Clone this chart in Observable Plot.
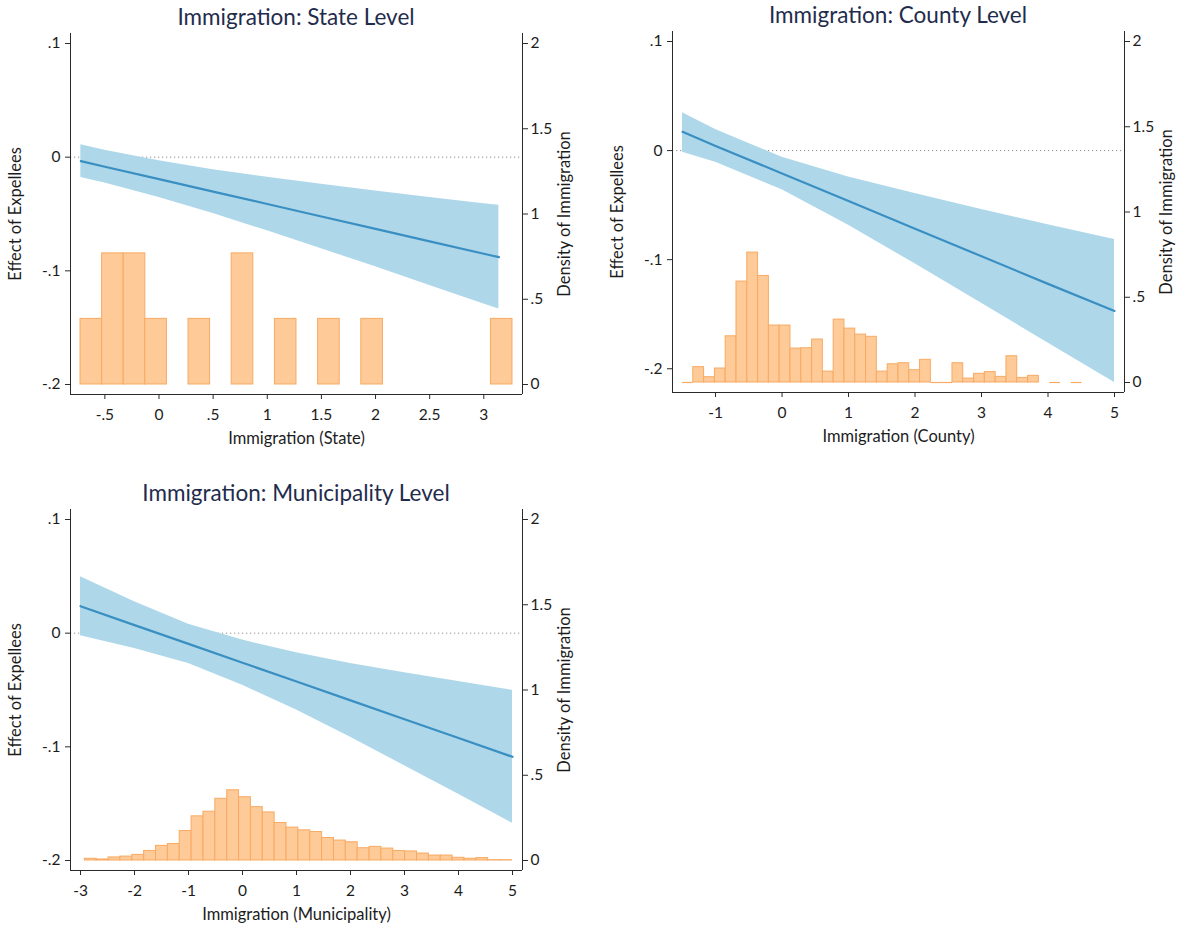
<!DOCTYPE html>
<html>
<head>
<meta charset="utf-8">
<script src="https://cdn.jsdelivr.net/npm/d3@7"></script>
<script src="https://cdn.jsdelivr.net/npm/@observablehq/plot@0.6"></script>
<style>
  body { margin: 0; background: #fff; }
  #page { position: relative; width: 1179px; height: 926px; overflow: hidden; background: #fff;
          font-family: Lato, "Noto Sans", sans-serif; }
  .panel { position: absolute; width: 590px; height: 470px; }
  .panel svg { position: absolute; left: 0; top: 0; }
  .title { position: absolute; transform: translate(-50%, -50%); white-space: nowrap;
           font-size: 22.5px; color: #1f2c4c; }
</style>
</head>
<body>
<div id="page"></div>
<script>
// ---------------- data ----------------
// Marginal effect of expellees (fit with 95% band) evaluated along immigration,
// plus the density histogram of immigration at each level.

// State level
const stateX   = [-0.722, -0.5, 0, 0.5, 1, 1.5, 2, 2.5, 3, 3.139];
const stateFit = [-0.0035, -0.0084, -0.0193, -0.0303, -0.0412, -0.0522, -0.0631, -0.0741, -0.0850, -0.0880];
const stateHi  = [0.0109, 0.0060, -0.0032, -0.0110, -0.0176, -0.0238, -0.0297, -0.0354, -0.0409, -0.0424];
const stateLo  = [-0.0179, -0.0228, -0.0354, -0.0496, -0.0648, -0.0806, -0.0965, -0.1128, -0.1291, -0.1336];
const stateBinStart = -0.725;
const stateBinWidth = 0.1995;
const stateDensity = [0.385, 0.769, 0.769, 0.385, null, 0.385, null, 0.769, null, 0.385,
                      null, 0.385, null, 0.385, null, null, null, null, null, 0.385];
const stateTicks = [-0.5, 0, 0.5, 1, 1.5, 2, 2.5, 3];

// County level
const countyX   = [-1.497, -1, 0, 1, 2, 3, 4, 5];
const countyFit = [0.0172, 0.0043, -0.0210, -0.0463, -0.0716, -0.0969, -0.1222, -0.1470];
const countyHi  = [0.0346, 0.0193, -0.0061, -0.0241, -0.0394, -0.0539, -0.0680, -0.0814];
const countyLo  = [-0.0016, -0.0107, -0.0359, -0.0685, -0.1038, -0.1399, -0.1764, -0.2126];
const countyBinStart = -1.497;
const countyBinWidth = 0.1624;
const countyDensity = [0, 0.090, 0.031, 0.082, 0.271, 0.592, 0.762, 0.625, 0.334, 0.334,
                       0.199, 0.201, 0.252, 0.064, 0.369, 0.316, 0.281, 0.268, 0.064, 0.107,
                       0.113, 0.072, 0.133, 0, 0, 0.113, 0.023, 0.051, 0.061, 0.033,
                       0.154, 0.027, 0.039, null, 0, null, 0];
const countyTicks = [-1, 0, 1, 2, 3, 4, 5];

// Municipality level
const muniX   = [-3, -2, -1, 0, 1, 2, 3, 4, 5];
const muniFit = [0.0237, 0.0071, -0.0094, -0.0260, -0.0425, -0.0591, -0.0757, -0.0922, -0.1088];
const muniHi  = [0.0496, 0.0276, 0.0079, -0.0061, -0.0173, -0.0266, -0.0348, -0.0426, -0.0503];
const muniLo  = [-0.0022, -0.0134, -0.0267, -0.0459, -0.0677, -0.0916, -0.1166, -0.1418, -0.1673];
const muniBinStart = -2.92;
const muniBinWidth = 0.2197;
const muniDensity = [0.010, 0.006, 0.018, 0.023, 0.033, 0.056, 0.086, 0.097, 0.173, 0.259,
                     0.286, 0.362, 0.412, 0.371, 0.313, 0.282, 0.220, 0.193, 0.177, 0.167,
                     0.132, 0.117, 0.107, 0.072, 0.080, 0.070, 0.056, 0.053, 0.041, 0.029,
                     0.029, 0.016, 0.010, 0.014, 0.002, 0.002];
const muniTicks = [-3, -2, -1, 0, 1, 2, 3, 4, 5];

// Shared axis ticks
const effectTicks  = [-0.2, -0.1, 0, 0.1];
const densityTicks = [0, 0.5, 1, 1.5, 2];
const effectFloor = -0.2, effectCeil = 0.1;
const densityMax = 2;

const panels = [
  { key: "state",  title: "Immigration: State Level",        xLabel: "Immigration (State)",
    x: stateX, fit: stateFit, hi: stateHi, lo: stateLo,
    binStart: stateBinStart, binWidth: stateBinWidth, density: stateDensity, xTicks: stateTicks },
  { key: "county", title: "Immigration: County Level",       xLabel: "Immigration (County)",
    x: countyX, fit: countyFit, hi: countyHi, lo: countyLo,
    binStart: countyBinStart, binWidth: countyBinWidth, density: countyDensity, xTicks: countyTicks },
  { key: "muni",   title: "Immigration: Municipality Level", xLabel: "Immigration (Municipality)",
    x: muniX, fit: muniFit, hi: muniHi, lo: muniLo,
    binStart: muniBinStart, binWidth: muniBinWidth, density: muniDensity, xTicks: muniTicks }
];

// ---------------- layout & style ----------------
const layout = {
  state:  { left: 0,   top: 1 },
  county: { left: 602, top: -1 },
  muni:   { left: 0,   top: 477 }
};
const W = 590, H = 470;
const M = { left: 70, right: 68, top: 32, bottom: 77 };
const INSET = 10;
const TICK_FONT = 15.5, LABEL_FONT = 16.5;
const colors = {
  band: "#aed8ea", line: "#3a8fc2", barFill: "#fdca98", barStroke: "#f8aa63",
  axis: "#2a2a2a", text: "#1c1c1c", zero: "#8c8c8c"
};

// Stata-style numbers: no leading zero (".5", "-.1")
const fmt = d => String(Math.round(d * 1000) / 1000).replace(/^(-?)0\./, "$1.");

const page = document.getElementById("page");

for (const p of panels) {
  const pos = layout[p.key];
  const rows = p.x.map((x, i) => ({ x, fit: p.fit[i], hi: p.hi[i], lo: p.lo[i] }));
  const bins = p.density
    .map((d, i) => ({ x1: p.binStart + i * p.binWidth, x2: p.binStart + (i + 1) * p.binWidth, d }))
    .filter(b => b.d !== null);

  const xDomain = [Math.min(p.x[0], p.binStart),
                   Math.max(p.x[p.x.length - 1], p.binStart + p.density.length * p.binWidth)];
  const yDomain = [Math.min(effectFloor, d3.min(p.lo)), effectCeil];

  const common = {
    width: W, height: H,
    marginLeft: M.left, marginRight: M.right, marginTop: M.top, marginBottom: M.bottom,
    style: { fontFamily: "Lato, 'Noto Sans', sans-serif", fontSize: TICK_FONT + "px",
             color: colors.text, background: "transparent", overflow: "visible" }
  };

  // Histogram of immigration on the right-hand density axis
  const hist = Plot.plot({
    ...common,
    x: { domain: xDomain, insetLeft: INSET, insetRight: INSET, axis: null },
    y: { domain: [0, densityMax], insetTop: INSET, insetBottom: INSET },
    marks: [
      Plot.rectY(bins.filter(b => b.d > 0), {
        x1: "x1", x2: "x2", y: "d",
        fill: colors.barFill, stroke: colors.barStroke, strokeWidth: 1
      }),
      Plot.ruleY(bins.filter(b => b.d === 0), {
        x1: "x1", x2: "x2", y: "d", stroke: colors.barStroke, strokeWidth: 1.2
      }),
      Plot.axisY({
        anchor: "right", ticks: densityTicks, tickFormat: fmt, label: null,
        tickSize: 5, tickPadding: 3, stroke: colors.axis, fontSize: TICK_FONT
      }),
      Plot.axisY({
        anchor: "right", ticks: [], tickSize: 0,
        label: "Density of Immigration", labelAnchor: "center", labelOffset: 47,
        labelArrow: false, fontSize: LABEL_FONT
      })
    ]
  });

  // Effect of expellees: 95% band, fitted line, zero reference
  const effect = Plot.plot({
    ...common,
    x: { domain: xDomain, insetLeft: INSET, insetRight: INSET },
    y: { domain: yDomain, insetTop: INSET, insetBottom: INSET },
    marks: [
      Plot.ruleY([0], { stroke: colors.zero, strokeWidth: 1, strokeDasharray: "1.2,2.8" }),
      Plot.areaY(rows, { x: "x", y1: "lo", y2: "hi", fill: colors.band }),
      Plot.lineY(rows, { x: "x", y: "fit", stroke: colors.line, strokeWidth: 2.2 }),
      Plot.ruleX([xDomain[0]], { dx: -INSET, stroke: colors.axis }),
      Plot.ruleX([xDomain[1]], { dx: INSET, stroke: colors.axis }),
      Plot.ruleY([yDomain[0]], { dy: INSET, stroke: colors.axis }),
      Plot.axisY({
        anchor: "left", ticks: effectTicks, tickFormat: fmt, label: null,
        tickSize: 5, tickPadding: 5, stroke: colors.axis, fontSize: TICK_FONT
      }),
      Plot.axisY({
        anchor: "left", ticks: [], tickSize: 0,
        label: "Effect of Expellees", labelAnchor: "center", labelOffset: 61,
        labelArrow: false, fontSize: LABEL_FONT
      }),
      Plot.axisX({
        anchor: "bottom", ticks: p.xTicks, tickFormat: fmt, label: null,
        tickSize: 5, tickPadding: 9, stroke: colors.axis, fontSize: TICK_FONT
      }),
      Plot.axisX({
        anchor: "bottom", ticks: [], tickSize: 0,
        label: p.xLabel, labelAnchor: "center", labelOffset: 49,
        labelArrow: false, fontSize: LABEL_FONT
      })
    ]
  });

  const div = document.createElement("div");
  div.className = "panel";
  div.style.left = pos.left + "px";
  div.style.top = pos.top + "px";
  div.appendChild(hist);
  div.appendChild(effect);
  page.appendChild(div);

  const t = document.createElement("div");
  t.className = "title";
  t.textContent = p.title;
  t.style.left = (pos.left + M.left + (W - M.left - M.right) / 2) + "px";
  t.style.top = (pos.top + 15) + "px";
  page.appendChild(t);
}
</script>
</body>
</html>
